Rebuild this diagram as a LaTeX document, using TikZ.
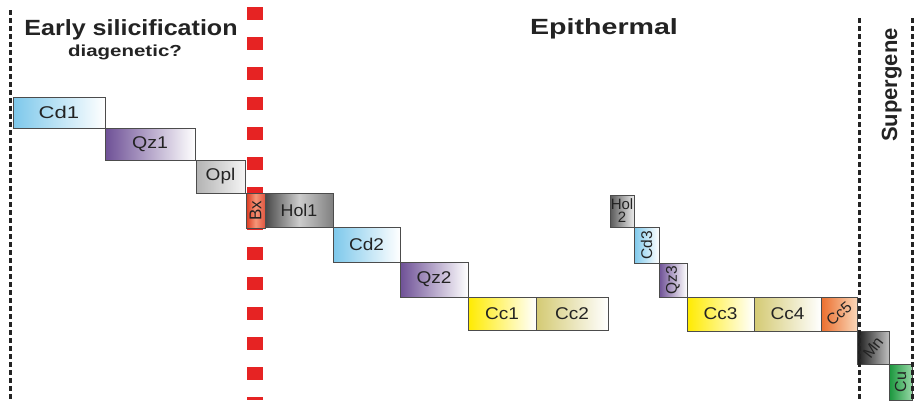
\documentclass[tikz,border=0pt]{standalone}
\usepackage{fontspec}
\setmainfont{Liberation Sans}
\definecolor{cdblue}{RGB}{125,200,235}
\definecolor{qzpurple}{RGB}{110,80,150}
\definecolor{ccyellow}{RGB}{255,235,0}
\definecolor{cckhaki}{RGB}{212,202,115}
\definecolor{ccorange}{RGB}{235,110,45}
\definecolor{ccpeach}{RGB}{250,215,185}
\definecolor{bxred}{RGB}{220,55,30}
\definecolor{bxlight}{RGB}{245,150,120}
\definecolor{mndark}{RGB}{25,25,25}
\definecolor{cugreen}{RGB}{25,150,60}
\definecolor{culight}{RGB}{150,215,165}
\definecolor{redmark}{RGB}{230,35,35}
\definecolor{ink}{RGB}{35,35,35}
\newcommand{\sx}[2][1.12]{\scalebox{#1}[1]{#2}}
\begin{document}
\begin{tikzpicture}[x=1pt,y=-1pt,
  stage/.style={draw=black!70, line width=0.8pt, inner sep=0pt, outer sep=0pt,
    anchor=north west, font=\fontsize{17}{19}\selectfont, text=ink},
  small/.style={font=\fontsize{15.5}{13}\selectfont},
  divider/.style={line width=3pt, dash pattern=on 5pt off 3pt, ink},
  title/.style={font=\fontsize{22}{24}\selectfont\bfseries, text=ink, inner sep=0pt},
]
\useasboundingbox (0,0) rectangle (915,400);

% boundary between early silicification and epithermal stage
\draw[line width=16pt, redmark, dash pattern=on 13pt off 17pt] (255,7) -- (255,400);

% stage headings
\node[title, anchor=base] (early) at (131,35) {\sx[1.14]{Early silicification}};
\node[font=\fontsize{16}{18}\selectfont\bfseries, text=ink, inner sep=0pt, anchor=base] (diag) at (125,56) {\sx[1.28]{diagenetic?}};
\node[title, anchor=base] (epi) at (604,34) {\sx[1.3]{Epithermal}};
\node[title, rotate=90, anchor=base] (sup) at (897,85) {Supergene};

% early silicification
\node[stage, minimum width=92pt, minimum height=31pt, left color=cdblue, right color=white] (cd1) at (13,97) {\sx[1.3]{Cd1}};
\node[stage, minimum width=90pt, minimum height=32pt, left color=qzpurple, right color=white] (qz1) at (105,128) {\sx[1.15]{Qz1}};
\node[stage, minimum width=49pt, minimum height=33pt, left color=black!30, right color=black!4] (opl) at (196,160) {\sx{Opl}};

% epithermal
\node[stage, minimum width=19pt, minimum height=35pt, left color=bxred, right color=bxred!85!white, middle color=bxlight, font=\fontsize{17}{18}\selectfont] (bx) at (246,193) {\rotatebox{90}{Bx}};
\node[stage, minimum width=68pt, minimum height=34pt, left color=black!72, right color=black!50, middle color=black!20] (hol1) at (265,193) {\sx[1.05]{Hol1}};
\node[stage, minimum width=67pt, minimum height=35pt, left color=cdblue, right color=white] (cd2) at (333,227) {\sx{Cd2}};
\node[stage, minimum width=68pt, minimum height=35pt, left color=qzpurple, right color=white] (qz2) at (400,262) {\sx{Qz2}};
\node[stage, minimum width=68pt, minimum height=33pt, left color=ccyellow, right color=white] (cc1) at (468,297) {\sx{Cc1}};
\node[stage, minimum width=72pt, minimum height=33pt, left color=cckhaki, right color=white] (cc2) at (536,297) {\sx{Cc2}};

\node[stage, small, minimum width=24pt, minimum height=32pt, align=center, left color=black!65, right color=black!8, font=\fontsize{15}{13}\selectfont] (hol2) at (610,195) {Hol\\2};
\node[stage, small, minimum width=25pt, minimum height=36pt, left color=cdblue, right color=white] (cd3) at (634,227) {\rotatebox{90}{Cd3}};
\node[stage, small, minimum width=28pt, minimum height=34pt, left color=qzpurple, right color=white] (qz3) at (659,263) {\rotatebox{90}{Qz3}};
\node[stage, minimum width=67pt, minimum height=34pt, left color=ccyellow, right color=white] (cc3) at (687,297) {\sx{Cc3}};
\node[stage, minimum width=67pt, minimum height=34pt, left color=cckhaki, right color=white] (cc4) at (754,297) {\sx{Cc4}};
\node[stage, minimum width=36pt, minimum height=34pt, left color=ccorange, right color=ccpeach, font=\fontsize{15.5}{17}\selectfont] (cc5) at (821,297) {\rotatebox{40}{Cc5}};

% supergene
\node[stage, minimum width=32pt, minimum height=33pt, left color=mndark, right color=black!25, font=\fontsize{16}{17}\selectfont] (mn) at (857,331) {\rotatebox{52}{Mn}};
\node[stage, minimum width=23pt, minimum height=36pt, left color=cugreen, right color=culight, font=\fontsize{16}{17}\selectfont] (cu) at (889,364) {\rotatebox{90}{Cu}};

% stage limits
\draw[divider] (10,10) -- (10,400);
\draw[divider] (859,18) -- (859,400);
\draw[divider] (912,18) -- (912,400);
\end{tikzpicture}
\end{document}
